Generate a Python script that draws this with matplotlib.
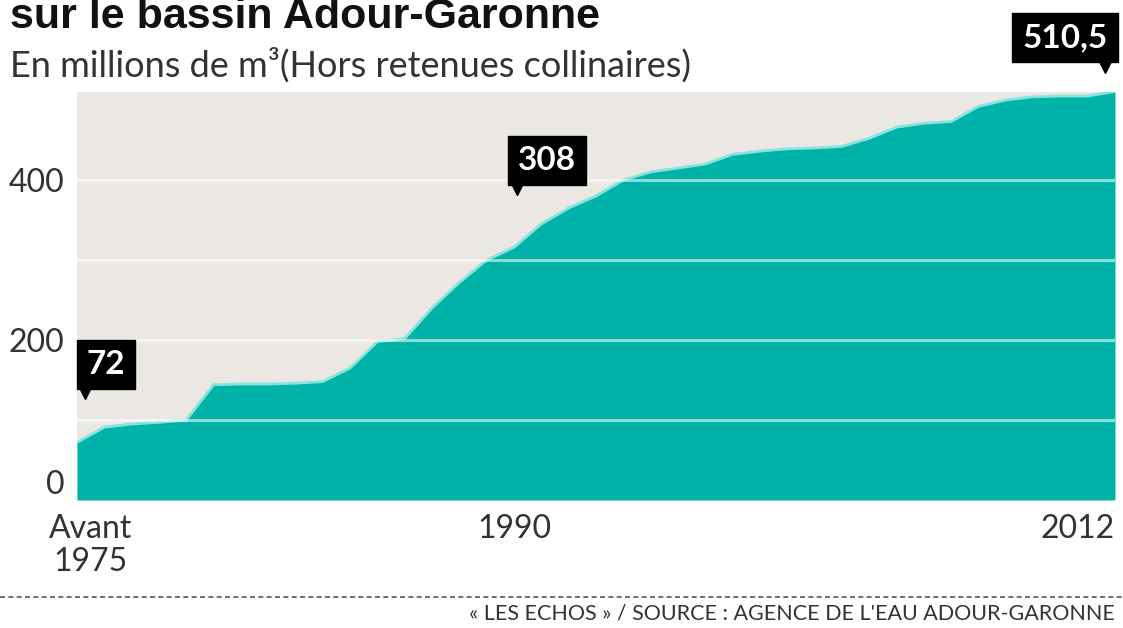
import matplotlib
matplotlib.use("Agg")
import matplotlib.pyplot as plt
from matplotlib.lines import Line2D

# cumulative storage volume, millions of m3
years = list(range(1974, 2013))
volumes = [72, 91, 95, 97, 100, 144, 145, 145, 146, 148,
           165, 198, 202, 240, 272, 300, 316, 345, 365, 380,
           400, 410, 415, 420, 432, 436, 439, 440, 442, 452,
           466, 471, 473, 492, 500, 504, 505, 505, 510.5]

tick_years = [1974.5, 1990, 2012]
tick_labels = ["Avant\n1975", "1990", "2012"]

callout_years = [1974, 1990, 2012]
callout_labels = ["72", "308", "510,5"]

title = "sur le bassin Adour-Garonne"
subtitle = "En millions de m³(Hors retenues collinaires)"
source = "« LES ECHOS » / SOURCE : AGENCE DE L'EAU ADOUR-GARONNE"

TEAL = "#00b2a7"
BEIGE = "#ebe8e3"
TXT = ["Lato", "DejaVu Sans"]
INK = "#333333"

fig = plt.figure(figsize=(11.23, 6.28), dpi=100)
ax = fig.add_axes([77 / 1123, 128 / 628, 1038 / 1123, 408 / 628])
ax.set_facecolor(BEIGE)

ax.fill_between(years, volumes, 0, color=TEAL, lw=0, zorder=2)
ax.plot(years, volumes, color="#86e3dd", lw=2, zorder=3)

ax.set_xlim(1974, 2012)
ax.set_ylim(0, 510)

# gridlines (white on beige, pale cyan on teal)
for g in [100, 200, 300, 400]:
    ax.axhline(g, color="white", alpha=0.55, lw=2.2, zorder=4)

for s in ax.spines.values():
    s.set_visible(False)

ax.set_yticks([0, 200, 400])
ax.set_yticklabels(["0", "200", "400"], fontsize=23, color=INK, family=TXT)
ax.tick_params(axis="y", length=0, pad=9)
ax.get_yticklabels()[0].set_verticalalignment("bottom")

ax.set_xticks(tick_years)
ax.set_xticklabels(tick_labels, fontsize=23, color=INK, family=TXT,
                   linespacing=1.15)
ax.tick_params(axis="x", length=0, pad=10)
ax.get_xticklabels()[-1].set_horizontalalignment("right")


def callout(xv, yv, label, side):
    # black tag with a small notch pointing down to (xv, yv)
    if side == "left":
        ha, dx = "left", 1.0
    else:
        ha, dx = "right", 1.5
    ax.annotate(label, xy=(xv, yv), xytext=(dx, 13), textcoords="offset points",
                ha=ha, va="bottom", fontsize=24, fontweight="bold",
                family=TXT, color="white", annotation_clip=False, zorder=6,
                bbox=dict(boxstyle="square,pad=0.3", fc="black", ec="black"))
    ax.plot([xv], [yv + 6], marker="v", ms=10, color="black", mec="black",
            clip_on=False, zorder=6)


callout(callout_years[0] + 0.3, 129, callout_labels[0], "left")
callout(callout_years[1] + 0.1, 384, callout_labels[1], "left")
callout(callout_years[2] - 0.35, 537, callout_labels[2], "right")

fig.text(10 / 1123, 1 - 28 / 628, title, fontsize=31, fontweight="bold",
         family=["Liberation Sans Narrow", "Liberation Sans"], color="#111111",
         va="baseline", ha="left")
fig.text(10 / 1123, 1 - 77 / 628, subtitle, fontsize=26,
         family=TXT, color=INK, va="baseline", ha="left")

fig.add_artist(Line2D([0, 1], [1 - 597 / 628] * 2, transform=fig.transFigure,
                      color="#555555", lw=1.2, ls=(0, (3, 2))))
fig.text(1115 / 1123, 1 - 620 / 628, source, fontsize=15.5,
         family=TXT, color=INK, ha="right", va="baseline")

fig.savefig("out.png", dpi=100, facecolor="white")
